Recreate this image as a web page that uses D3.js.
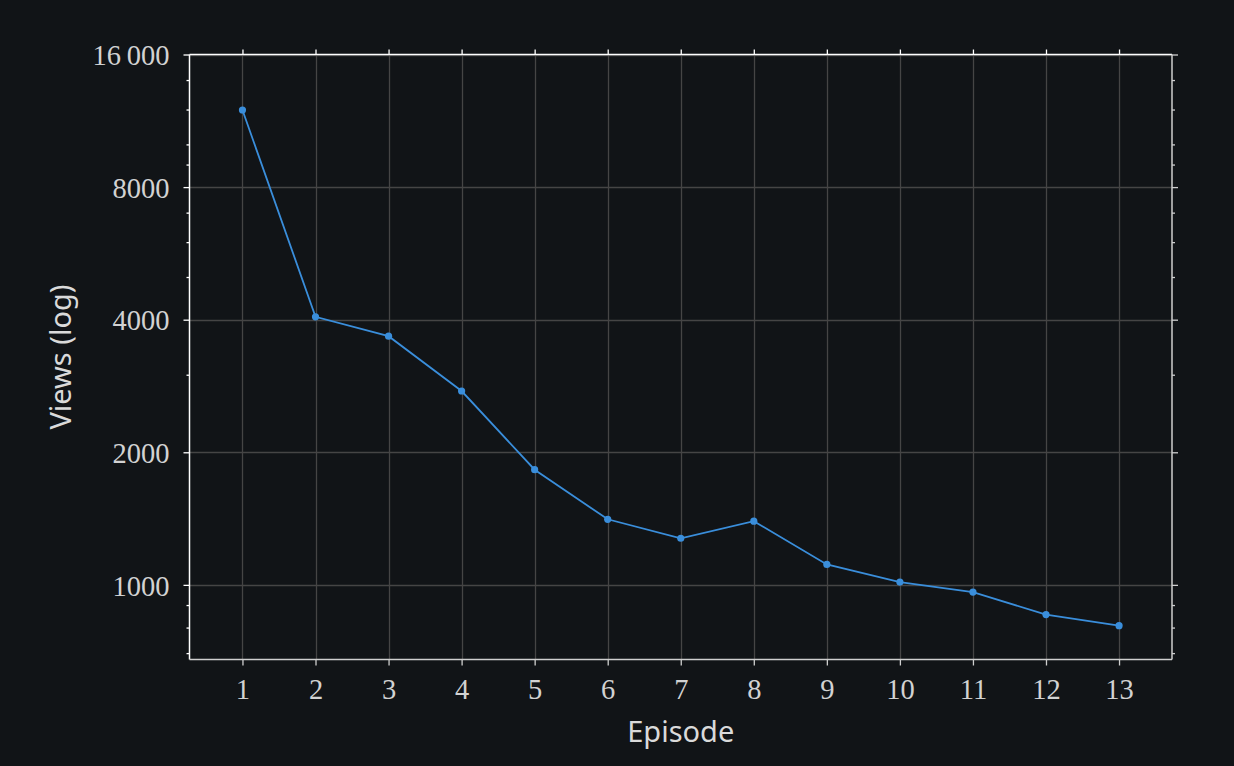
<!DOCTYPE html>
<html>
<head>
<meta charset="utf-8">
<script src="https://cdn.jsdelivr.net/npm/d3@7"></script>
<style>
  html, body { margin: 0; padding: 0; background: #111417; }
  svg { display: block; }
</style>
</head>
<body>
<svg id="chart" width="1234" height="766"></svg>
<script>
const episodes = [1, 2, 3, 4, 5, 6, 7, 8, 9, 10, 11, 12, 13];
const views = [11970, 4060, 3670, 2755, 1826, 1409, 1276, 1395, 1113, 1015, 963, 856, 808];
const yMajorTicks = [1000, 2000, 4000, 8000, 16000];
const yMajorLabels = ["1000", "2000", "4000", "8000", "16\u2009000"];
const yMinorTicks = [700, 800, 900, 3000, 5000, 6000, 7000, 9000, 10000, 12000, 14000];
const yDomain = [677, 16000];
const xTitle = "Episode";
const yTitle = "Views (log)";

const W = 1234, H = 766;
const m = { left: 189.5, right: 1172, top: 54.5, bottom: 659.5 };

const svg = d3.select("#chart");
svg.append("rect").attr("width", W).attr("height", H).attr("fill", "#111417");

const x = d3.scaleLinear().domain([1 - 0.725, 13 + 0.725]).range([m.left, m.right]);
const y = d3.scaleLog().domain(yDomain).range([m.bottom, m.top]);

const gridColor = "#454545";
svg.append("g").selectAll("line").data(episodes).join("line")
  .attr("x1", d => Math.round(x(d)) + 0.5).attr("x2", d => Math.round(x(d)) + 0.5)
  .attr("y1", m.top).attr("y2", m.bottom)
  .attr("stroke", gridColor).attr("stroke-width", 1.3);
svg.append("g").selectAll("line").data(yMajorTicks).join("line")
  .attr("x1", m.left).attr("x2", m.right)
  .attr("y1", d => Math.round(y(d)) + 0.5).attr("y2", d => Math.round(y(d)) + 0.5)
  .attr("stroke", gridColor).attr("stroke-width", 1.3);

const labelFont = "'Liberation Serif', 'DejaVu Serif', serif";
const labelColor = "#d2d2d2";

function styleAxis(g, color) {
  g.select(".domain").remove();
  g.selectAll(".tick line").attr("stroke", color).attr("stroke-width", 1.3);
  g.selectAll(".tick text").attr("fill", labelColor)
    .style("font-family", labelFont).style("font-size", "28.5px");
}

const gB = svg.append("g").attr("transform", `translate(0,${m.bottom})`)
  .call(d3.axisBottom(x).tickValues(episodes).tickFormat(d3.format("d")).tickSize(6).tickPadding(13));
styleAxis(gB, "#cfcfcf");

const gT = svg.append("g").attr("transform", `translate(0,${m.top})`)
  .call(d3.axisTop(x).tickValues(episodes).tickSize(5).tickFormat(""));
styleAxis(gT, "#ffffff");

const gL = svg.append("g").attr("transform", `translate(${m.left},0)`)
  .call(d3.axisLeft(y).tickValues(yMajorTicks)
    .tickFormat((d, i) => yMajorLabels[i]).tickSize(6).tickPadding(14));
styleAxis(gL, "#ffffff");
gL.selectAll(".tick text").attr("dy", "0.36em");
const gLm = svg.append("g").attr("transform", `translate(${m.left},0)`)
  .call(d3.axisLeft(y).tickValues(yMinorTicks).tickSize(3).tickFormat(""));
styleAxis(gLm, "#ffffff");

const gR = svg.append("g").attr("transform", `translate(${m.right},0)`)
  .call(d3.axisRight(y).tickValues(yMajorTicks).tickSize(6).tickFormat(""));
styleAxis(gR, "#cfcfcf");
const gRm = svg.append("g").attr("transform", `translate(${m.right},0)`)
  .call(d3.axisRight(y).tickValues(yMinorTicks).tickSize(3).tickFormat(""));
styleAxis(gRm, "#cfcfcf");

svg.append("line").attr("x1", m.left).attr("x2", m.right).attr("y1", m.top).attr("y2", m.top)
  .attr("stroke", "#ffffff").attr("stroke-width", 1.5);
svg.append("line").attr("x1", m.left).attr("x2", m.left).attr("y1", m.top).attr("y2", m.bottom)
  .attr("stroke", "#ffffff").attr("stroke-width", 1.5);
svg.append("line").attr("x1", m.left).attr("x2", m.right).attr("y1", m.bottom).attr("y2", m.bottom)
  .attr("stroke", "#cfcfcf").attr("stroke-width", 1.5);
svg.append("line").attr("x1", m.right).attr("x2", m.right).attr("y1", m.top).attr("y2", m.bottom)
  .attr("stroke", "#cfcfcf").attr("stroke-width", 1.5);

const data = episodes.map((e, i) => ({ e, v: views[i] }));
const lineColor = "#3a8edb";
svg.append("path").datum(data)
  .attr("fill", "none").attr("stroke", lineColor).attr("stroke-width", 1.8)
  .attr("d", d3.line().x(d => x(d.e)).y(d => y(d.v)));
svg.append("g").selectAll("circle").data(data).join("circle")
  .attr("cx", d => x(d.e)).attr("cy", d => y(d.v)).attr("r", 3.6)
  .attr("fill", lineColor);

const titleFont = "'Noto Sans', 'Open Sans', sans-serif";
svg.append("text").attr("x", (m.left + m.right) / 2).attr("y", 742)
  .attr("text-anchor", "middle").attr("fill", "#dadada")
  .style("font-family", titleFont).style("font-size", "29px").text(xTitle);
svg.append("text")
  .attr("transform", `translate(71,${(m.top + m.bottom) / 2}) rotate(-90)`)
  .attr("text-anchor", "middle").attr("fill", "#dadada")
  .style("font-family", titleFont).style("font-size", "29px").text(yTitle);
</script>
</body>
</html>
